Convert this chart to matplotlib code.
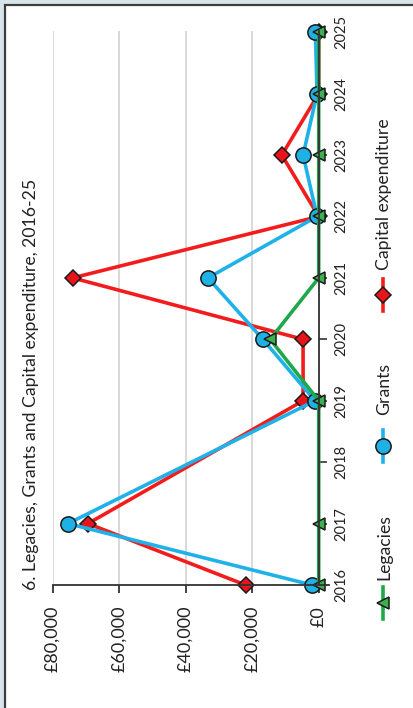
import numpy as np
import matplotlib
matplotlib.use("Agg")
from matplotlib import pyplot as plt
from matplotlib.lines import Line2D
from matplotlib.patches import Rectangle

plt.rcParams["font.family"] = ["Lato", "DejaVu Sans"]

W, H = 414, 708

years = np.array([2016, 2017, 2018, 2019, 2020, 2021, 2022, 2023, 2024, 2025])
capex = np.array([22000, 69400, np.nan, 4700, 4700, 74000, 0, 11100, 0, 0])
grants = np.array([2000, 75400, np.nan, 1100, 16800, 33300, 500, 4700, 500, 1000])
legacies = np.array([0, 0, np.nan, 0, 14600, 0, 0, 0, 0, 0])

value_ticks = [0, 20000, 40000, 60000, 80000]
value_labels = ["£0", "£20,000", "£40,000", "£60,000", "£80,000"]

title = "6. Legacies, Grants and Capital expenditure, 2016-25"

# name, values, line colour, marker, face colour, marker size
series = [
    ("Capital expenditure", capex, "#f21c1c", "D", "#e8141a", 8),
    ("Grants", grants, "#1fb2e8", "o", "#1fb0e6", 11),
    ("Legacies", legacies, "#1fa84a", "<", "#3bb24f", 9),
]


def fx(x):
    return x / W


def fy(y):
    return 1 - y / H


fig = plt.figure(figsize=(W / 100, H / 100), dpi=100)
fig.patch.set_facecolor("#d8e6eb")
fig.add_artist(Rectangle((fx(5), -0.1), 1.2, fy(5) + 0.1, transform=fig.transFigure,
                         facecolor="white", edgecolor="#3d3d3d", lw=1.6, zorder=-5))

ax = fig.add_axes([fx(52.7), fy(585), fx(328.7) - fx(52.7), fy(31) - fy(585)])
ax.set_xlim(80000, -3000)
ax.set_ylim(2016, 2025.02)

for name, vals, col, mk, face, ms in series:
    m = ~np.isnan(vals)
    ax.plot(vals[m], years[m], color=col, lw=2.6, marker=mk, ms=ms,
            markerfacecolor=face, markeredgecolor="#1a1a1a", markeredgewidth=1.1,
            clip_on=False)

ax.grid(axis="x", color="#d9d9d9", lw=1.4)
ax.grid(axis="y", visible=False)
ax.set_axisbelow(True)

ax.spines["top"].set_visible(False)
ax.spines["left"].set_visible(False)
ax.spines["right"].set_position(("data", 0))
ax.spines["right"].set_color("#333333")
ax.spines["right"].set_linewidth(1.3)
ax.spines["bottom"].set_color("#333333")
ax.spines["bottom"].set_linewidth(1.3)

ax.set_xticks(value_ticks)
ax.set_xticklabels(value_labels)
ax.tick_params(axis="x", direction="out", length=6, width=1.3, color="#333333",
               pad=9, labelsize=13, labelrotation=90, labelcolor="#222222")

ax.yaxis.tick_right()
ax.set_yticks(years)
ax.set_yticklabels([str(y) for y in years])
ax.tick_params(axis="y", direction="out", length=6, width=1.2, color="#333333",
               pad=5, labelsize=10.5, labelrotation=90, labelcolor="#222222")
for lab in ax.get_yticklabels():
    lab.set_verticalalignment("center")

fig.text(fx(31), fy(590), title, rotation=90, ha="center", va="bottom",
         fontsize=12.7, color="#222222")

# legend, drawn by hand since the whole chart is turned on its side
legend_pos = {"Legacies": (603, 580), "Grants": (446, 415), "Capital expenditure": (295, 270)}
for name, vals, col, mk, face, ms in series:
    ym, yt = legend_pos[name]
    fig.add_artist(Line2D([fx(383), fx(383)], [fy(ym + 16), fy(ym - 16)],
                          transform=fig.transFigure, color=col, lw=2.6))
    fig.add_artist(Line2D([fx(383)], [fy(ym)], transform=fig.transFigure,
                          marker=mk, ms=ms, markerfacecolor=face,
                          markeredgecolor="#1a1a1a", markeredgewidth=1.1))
    fig.text(fx(384), fy(yt), name, rotation=90, ha="center", va="bottom",
             fontsize=12.7, color="#222222")

fig.savefig("out.png", dpi=100)
